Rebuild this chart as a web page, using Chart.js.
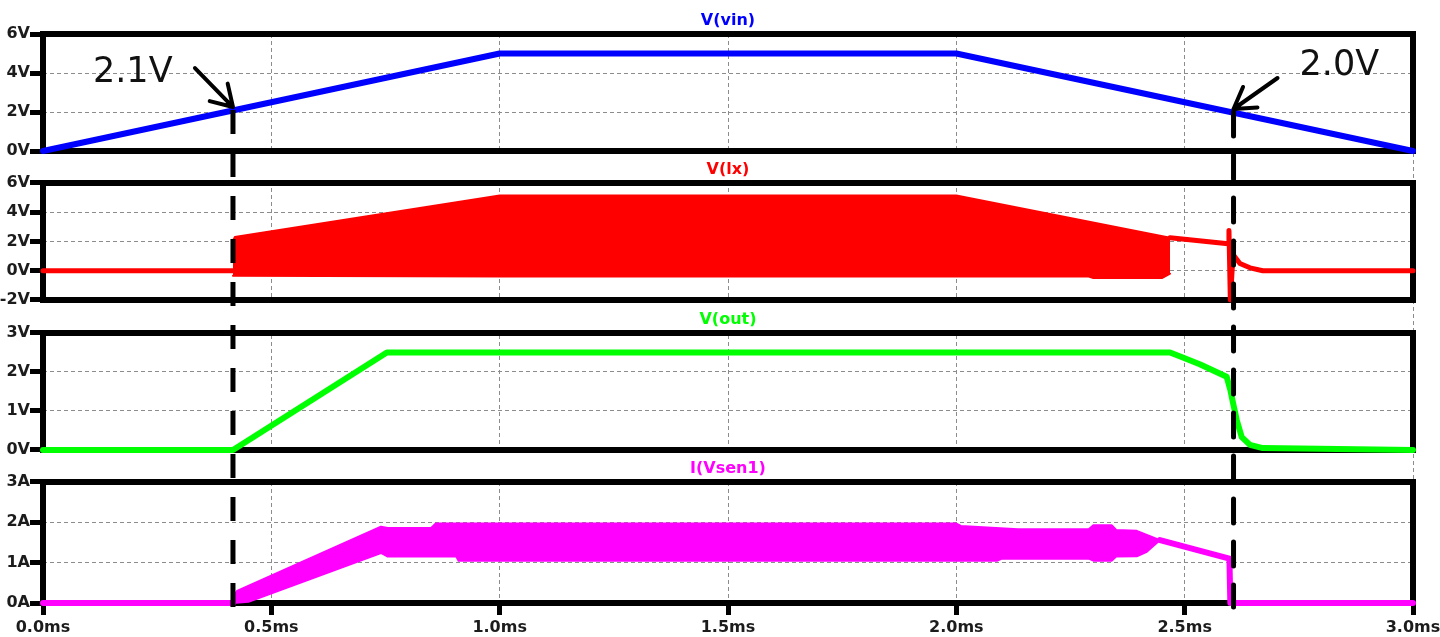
<!DOCTYPE html>
<html>
<head>
<meta charset="utf-8">
<title>Waveforms</title>
<script src="https://cdn.jsdelivr.net/npm/chart.js@4.4.1/dist/chart.umd.min.js"></script>
<style>
    html, body { margin: 0; padding: 0; background: #fff; }
    #wrap { width: 1440px; height: 637px; }
</style>
</head>
<body>
<div id="wrap"><canvas id="chart-wave"></canvas></div>
<script>
// Time axis (ms)
const timeTicks = [0, 0.5, 1.0, 1.5, 2.0, 2.5, 3.0];

// V(vin)
const vinT = [0, 1.0, 2.0, 3.0];
const vinV = [0, 5, 5, 0];
const vinTicks = [0, 2, 4, 6];

// V(lx) : switching envelope (top / bottom) and the single trace
const lxTopT = [0.416, 0.42, 1.0, 2.0, 2.468];
const lxTop = [2.05, 2.3, 5.15, 5.15, 2.25];
const lxBotT = [0.416, 1.0, 2.29, 2.30, 2.45, 2.468];
const lxBot = [-0.35, -0.4, -0.4, -0.5, -0.5, -0.2];
const lxTraceT = [0, 0.416, 0.417, 2.468, 2.595, 2.597, 2.600, 2.606, 2.621, 2.643, 2.671, 3.0];
const lxTrace = [0, 0, null, 2.25, 1.85, 2.75, -2.0, 1.1, 0.5, 0.2, 0, 0];
const lxTicks = [-2, 0, 2, 4, 6];

// V(out)
const outT = [0, 0.416, 0.753, 2.468, 2.496, 2.533, 2.592, 2.600, 2.606, 2.614, 2.625, 2.643, 2.671, 3.0];
const outV = [0, 0, 2.5, 2.5, 2.37, 2.2, 1.88, 1.54, 1.2, 0.77, 0.33, 0.13, 0.05, 0];
const outTicks = [0, 1, 2, 3];

// I(Vsen1) : ripple envelope and the single trace
const senTopT = [0.416, 0.425, 0.74, 0.755, 0.85, 0.86, 2.0, 2.01, 2.135, 2.29, 2.30, 2.34, 2.35, 2.395, 2.417, 2.446];
const senTop = [0.15, 0.3, 1.89, 1.86, 1.86, 1.97, 1.97, 1.91, 1.83, 1.83, 1.93, 1.93, 1.81, 1.79, 1.69, 1.56];
const senBotT = [0.416, 0.45, 0.74, 0.755, 0.905, 0.91, 2.09, 2.10, 2.29, 2.30, 2.34, 2.35, 2.395, 2.417, 2.446];
const senBot = [0, 0.03, 1.24, 1.15, 1.15, 1.05, 1.05, 1.10, 1.10, 1.05, 1.05, 1.15, 1.16, 1.27, 1.56];
const senTraceT = [0, 0.416, 0.417, 2.446, 2.598, 2.600, 3.0];
const senTrace = [0, 0, null, 1.56, 1.10, 0, 0];
const senTicks = [0, 1, 2, 3];

// Cursor markers
const markerT = [0.416, 2.607];
const markerV = [2.1, 2.0];
const markerLabels = ['2.1V', '2.0V'];

// Panel heights in px (panel, gap, panel, ...)
const stackSizes = [117, 32, 117, 33, 117, 32, 121];

const toPts = (ts, vs) => ts.map((t, i) => ({ x: t, y: vs[i] }));

const tickFont = { family: 'DejaVu Sans', size: 16, weight: 'bold' };
const tickColor = '#1c1c1c';

const panels = [
    { id: 'yVin', title: 'V(vin)', color: '#0000ff', unit: 'V', min: 0, max: 6, ticks: vinTicks },
    { id: 'yLx', title: 'V(lx)', color: '#ff0000', unit: 'V', min: -2, max: 6, ticks: lxTicks },
    { id: 'yOut', title: 'V(out)', color: '#00ff00', unit: 'V', min: 0, max: 3, ticks: outTicks },
    { id: 'ySen', title: 'I(Vsen1)', color: '#ff00ff', unit: 'A', min: 0, max: 3, ticks: senTicks }
];
const gapIds = ['g1', 'g2', 'g3'];

function panelScale(p, weight, size) {
    return {
        type: 'linear',
        position: 'left',
        stack: 'wave',
        stackWeight: size,
        weight: weight,
        min: p.min,
        max: p.max,
        afterBuildTicks: s => { s.ticks = p.ticks.map(v => ({ value: v })); },
        afterFit: s => { s.width = 43; s.paddingTop = 0; s.paddingBottom = 0; },
        ticks: {
            font: tickFont,
            color: tickColor,
            padding: 0,
            autoSkip: false,
            callback: v => v + p.unit
        },
        grid: {
            color: '#8c8c8c',
            lineWidth: 1,
            tickColor: '#000',
            tickWidth: 5,
            tickLength: 13
        },
        border: { display: false, dash: [4, 3] }
    };
}

function gapScale(weight, size) {
    return {
        type: 'linear',
        position: 'left',
        stack: 'wave',
        stackWeight: size,
        weight: weight,
        display: false,
        afterFit: s => { s.width = 43; }
    };
}

const scales = {
    x: {
        type: 'linear',
        position: 'bottom',
        min: 0,
        max: 3,
        afterBuildTicks: s => { s.ticks = timeTicks.map(v => ({ value: v })); },
        afterFit: s => { s.height = 34; s.paddingLeft = 0; s.paddingRight = 0; },
        ticks: {
            font: tickFont,
            color: tickColor,
            padding: 3,
            maxRotation: 0,
            autoSkip: false,
            callback: v => v.toFixed(1) + 'ms'
        },
        grid: {
            color: '#8c8c8c',
            lineWidth: 1,
            tickColor: '#000',
            tickWidth: 5,
            tickLength: 12
        },
        border: { display: false, dash: [4, 3] }
    },
    yVin: panelScale(panels[0], 7, stackSizes[0]),
    g1: gapScale(6, stackSizes[1]),
    yLx: panelScale(panels[1], 5, stackSizes[2]),
    g2: gapScale(4, stackSizes[3]),
    yOut: panelScale(panels[2], 3, stackSizes[4]),
    g3: gapScale(2, stackSizes[5]),
    ySen: panelScale(panels[3], 1, stackSizes[6])
};

function trace(data, axis, color, width) {
    return {
        data: data,
        yAxisID: axis,
        borderColor: color,
        backgroundColor: color,
        borderWidth: width,
        pointRadius: 0,
        tension: 0,
        fill: false,
        clip: false,
        borderJoinStyle: 'round',
        borderCapStyle: 'round'
    };
}

const datasets = [
    trace(toPts(vinT, vinV), 'yVin', '#0000ff', 6),
    trace(toPts(lxTopT, lxTop), 'yLx', '#ff0000', 2),
    Object.assign(trace(toPts(lxBotT, lxBot), 'yLx', '#ff0000', 2), { fill: '-1' }),
    trace(toPts(lxTraceT, lxTrace), 'yLx', '#ff0000', 5),
    trace(toPts(outT, outV), 'yOut', '#00ff00', 6),
    trace(toPts(senTopT, senTop), 'ySen', '#ff00ff', 2),
    Object.assign(trace(toPts(senBotT, senBot), 'ySen', '#ff00ff', 2), { fill: '-1' }),
    trace(toPts(senTraceT, senTrace), 'ySen', '#ff00ff', 6)
];

// frames, titles, cursors and arrows
const arrowOffsets = [[-38, -42], [44, -34]];
const labelOffsets = [[-140, -28], [66, -37]];

const wavePlugin = {
    id: 'wavePlugin',
    beforeDatasetsDraw(chart) {
        const { ctx, chartArea: a, scales: s } = chart;
        ctx.save();
        ctx.fillStyle = '#fff';
        gapIds.forEach(id => ctx.fillRect(a.left, s[id].top, a.width, s[id].height));
        ctx.strokeStyle = '#000';
        ctx.lineWidth = 6;
        panels.forEach(p => ctx.strokeRect(a.left, s[p.id].top, a.width, s[p.id].height));
        ctx.restore();
    },
    afterDatasetsDraw(chart) {
        const { ctx, chartArea: a, scales: s } = chart;
        ctx.save();
        // titles
        ctx.font = 'bold 16px "DejaVu Sans"';
        ctx.textAlign = 'center';
        ctx.textBaseline = 'middle';
        panels.forEach(p => {
            ctx.fillStyle = p.color;
            ctx.fillText(p.title, (a.left + a.right) / 2, s[p.id].top - 13);
        });
        // cursors
        markerT.forEach((t, i) => {
            const x = s.x.getPixelForValue(t);
            const y0 = s.yVin.getPixelForValue(markerV[i]);
            ctx.strokeStyle = '#000';
            ctx.lineWidth = 5;
            ctx.setLineDash([24, 19]);
            ctx.beginPath();
            ctx.moveTo(x, y0);
            ctx.lineTo(x, s.ySen.bottom + 4);
            ctx.stroke();
            ctx.setLineDash([]);

            // arrow
            const tipX = x, tipY = y0 - 3;
            const tailX = x + arrowOffsets[i][0], tailY = y0 + arrowOffsets[i][1];
            const ang = Math.atan2(tipY - tailY, tipX - tailX);
            ctx.lineWidth = 4;
            ctx.lineCap = 'round';
            ctx.beginPath();
            ctx.moveTo(tailX, tailY);
            ctx.lineTo(tipX, tipY);
            [0.55, -0.55].forEach(d => {
                ctx.moveTo(tipX, tipY);
                ctx.lineTo(tipX - 24 * Math.cos(ang + d), tipY - 24 * Math.sin(ang + d));
            });
            ctx.stroke();

            ctx.fillStyle = '#111';
            ctx.font = '35px "DejaVu Sans"';
            ctx.textAlign = 'left';
            ctx.textBaseline = 'alphabetic';
            ctx.fillText(markerLabels[i], x + labelOffsets[i][0], y0 + labelOffsets[i][1]);
        });
        ctx.restore();
    }
};

new Chart(document.getElementById('chart-wave'), {
    type: 'line',
    data: { datasets: datasets },
    options: {
        responsive: true,
        maintainAspectRatio: false,
        devicePixelRatio: 1,
        animation: false,
        parsing: false,
        layout: { padding: { top: 34, right: 27, left: 0, bottom: 0 } },
        plugins: {
            legend: { display: false },
            tooltip: { enabled: false },
            title: { display: false }
        },
        scales: scales
    },
    plugins: [wavePlugin]
});
</script>
</body>
</html>
